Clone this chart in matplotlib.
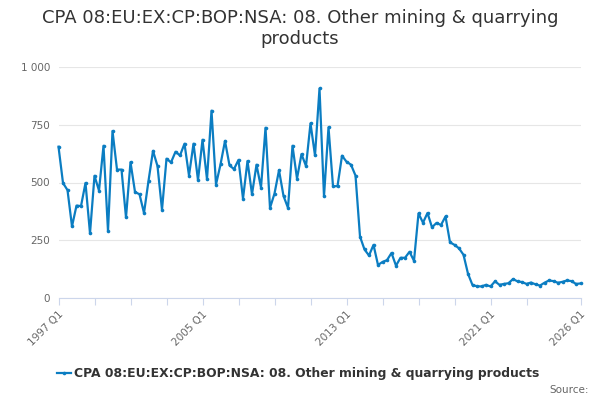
import matplotlib
matplotlib.use('Agg')
import matplotlib.pyplot as plt

TITLE = "CPA 08:EU:EX:CP:BOP:NSA: 08. Other mining & quarrying\nproducts"
SERIES_NAME = "CPA 08:EU:EX:CP:BOP:NSA: 08. Other mining & quarrying products"

# quarterly values, 1997 Q1 .. 2026 Q1
quarters = [f"{y} Q{q}" for y in range(1997, 2027) for q in range(1, 5)][:117]
values = [
    655, 498, 467, 310, 400, 398, 498, 280, 529, 465, 659, 290, 723, 556, 556, 349,
    588, 459, 449, 368, 507, 637, 571, 382, 603, 587, 633, 617, 668, 530, 668, 510,
    685, 514, 811, 491, 578, 680, 574, 558, 598, 430, 593, 449, 577, 478, 737, 390,
    452, 553, 442, 390, 659, 517, 623, 571, 756, 617, 907, 440, 739, 484, 484, 616,
    590, 577, 530, 266, 210, 184, 230, 143, 156, 164, 195, 140, 174, 174, 200, 161,
    366, 326, 368, 306, 325, 316, 353, 241, 230, 215, 187, 105, 56, 51, 50, 57,
    50, 72, 57, 61, 64, 82, 72, 69, 61, 67, 59, 54, 66, 76, 73, 66,
    70, 76, 73, 61, 63,
]
y_ticks = [0, 250, 500, 750, 1000]
y_tick_labels = ["0", "250", "500", "750", "1 000"]
label_idx = [0, 32, 64, 96, 116]

LINE = '#0b7dc2'

fig = plt.figure(figsize=(6, 4), dpi=100)
ax = fig.add_axes([58.5 / 600, 102 / 400, 522 / 600, 231 / 400])

x = list(range(len(values)))
ax.plot(x, values, color=LINE, linewidth=1.6, marker='o', markersize=2.6,
        markeredgewidth=0, clip_on=False, zorder=3)

ax.set_xlim(0, len(values) - 1)
ax.set_ylim(0, 1000)
ax.set_yticks(y_ticks)
ax.set_yticklabels(y_tick_labels, fontsize=7.5, color='#666666')
ax.tick_params(axis='y', length=0, pad=6)
ax.grid(axis='y', color='#e6e6e6', linewidth=0.8)
ax.set_axisbelow(True)

tick_pos = list(range(0, 105, 8)) + [116]
ax.set_xticks(tick_pos)
ax.set_xticklabels([quarters[i] if i in label_idx else "" for i in tick_pos],
                   rotation=45, ha='right', rotation_mode='anchor',
                   fontsize=7.5, color='#666666')
ax.tick_params(axis='x', length=5, color='#ccd6eb', width=0.8, pad=3)

for side in ['top', 'right', 'left']:
    ax.spines[side].set_visible(False)
ax.spines['bottom'].set_color('#ccd6eb')
ax.spines['bottom'].set_linewidth(0.8)

fig.text(0.5, 0.978, TITLE, ha='center', va='top', fontsize=13,
         color='#333333', linespacing=1.2)

# legend
fig.lines.append(plt.Line2D([57 / 600, 71 / 600], [1 - 373 / 400] * 2,
                            color=LINE, linewidth=1.6, transform=fig.transFigure))
fig.lines.append(plt.Line2D([64 / 600], [1 - 373 / 400], color=LINE, marker='o',
                            markersize=2.6, markeredgewidth=0, transform=fig.transFigure))
fig.text(74 / 600, 1 - 373 / 400, SERIES_NAME, ha='left', va='center',
         fontsize=8.9, fontweight='bold', color='#333333')
fig.text(589 / 600, 1 - 390 / 400, "Source:", ha='right', va='center',
         fontsize=7.5, color='#666666')

fig.savefig('out.png', dpi=100)
